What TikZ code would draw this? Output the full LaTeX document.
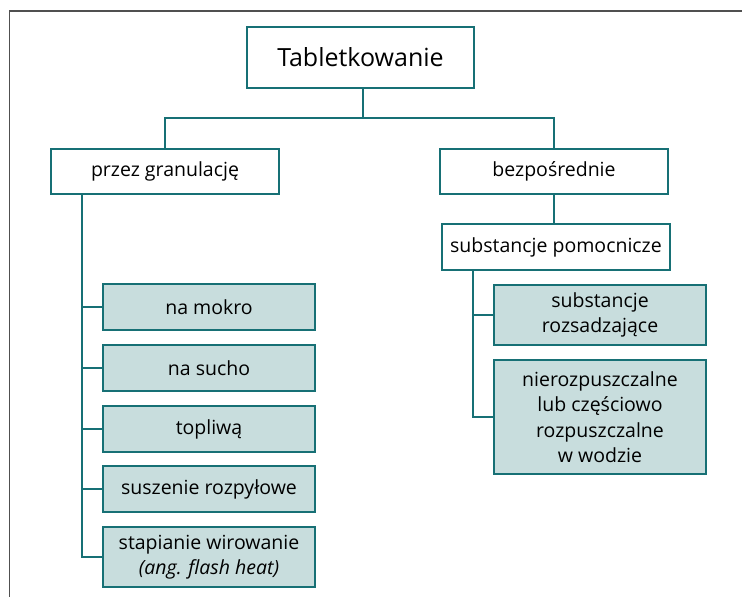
\documentclass[tikz,border=0pt]{standalone}
\usepackage{fontspec}
\setmainfont{Open Sans}
\definecolor{tealline}{RGB}{23,112,117}
\definecolor{tealfill}{RGB}{200,221,221}
\definecolor{framegray}{RGB}{80,80,80}
\tikzset{
  box/.style={draw=tealline, line width=1.8pt, rectangle, align=center, inner sep=0pt,
    font=\fontsize{19.5}{25.5}\selectfont},
  subbox/.style={box, fill=tealfill, minimum width=212pt},
  link/.style={draw=tealline, line width=1.8pt}
}
\begin{document}
\begin{tikzpicture}[x=1pt, y=-1pt]
\useasboundingbox (0,0) rectangle (742,597);
\draw[framegray, line width=1.3pt] (9.5,597) -- (9.5,11) -- (742,11);
\node[box, minimum width=227pt, minimum height=61pt, font=\fontsize{25}{30}\selectfont] (top) at (360.5,57.5) {Tabletkowanie};
\node[box, minimum width=228pt, minimum height=45pt] (gran) at (165,171.5) {przez granulację};
\node[box, minimum width=228pt, minimum height=45pt] (bezp) at (554,171.5) {bezpośrednie};
\node[box, minimum width=228pt, minimum height=46pt] (pom) at (556,247) {substancje pomocnicze};
\node[subbox, minimum height=46pt] (mokro) at (209,307) {na mokro};
\node[subbox, minimum height=46pt] (sucho) at (209,368) {na sucho};
\node[subbox, minimum height=46pt] (topl) at (209,429) {topliwą};
\node[subbox, minimum height=46pt] (susz) at (209,489) {suszenie rozpyłowe};
\node[subbox, minimum height=60pt] (stap) at (209,557) {stapianie wirowanie\\\textit{(ang. flash heat)}};
\node[subbox, minimum height=60pt] (rozs) at (600,315) {substancje\\rozsadzające};
\node[subbox, minimum height=114pt] (nier) at (600,417) {nierozpuszczalne\\lub częściowo\\rozpuszczalne\\w wodzie};
% tree links
\coordinate (split) at (363,118);
\coordinate (lspine) at (82,194);
\coordinate (rspine) at (473,270);
\draw[link] (top.south -| split) -- (split);
\draw[link] (gran.north) |- (split) -| (bezp.north);
\draw[link] (bezp.south) -- (pom.north -| bezp.south);
\draw[link] (lspine) |- (stap.west);
\foreach \n in {mokro,sucho,topl,susz}
  \draw[link] (\n.west) -- (\n.west -| lspine);
\draw[link] (rspine) |- (nier.west);
\draw[link] (rozs.west) -- (rozs.west -| rspine);
\end{tikzpicture}
\end{document}
